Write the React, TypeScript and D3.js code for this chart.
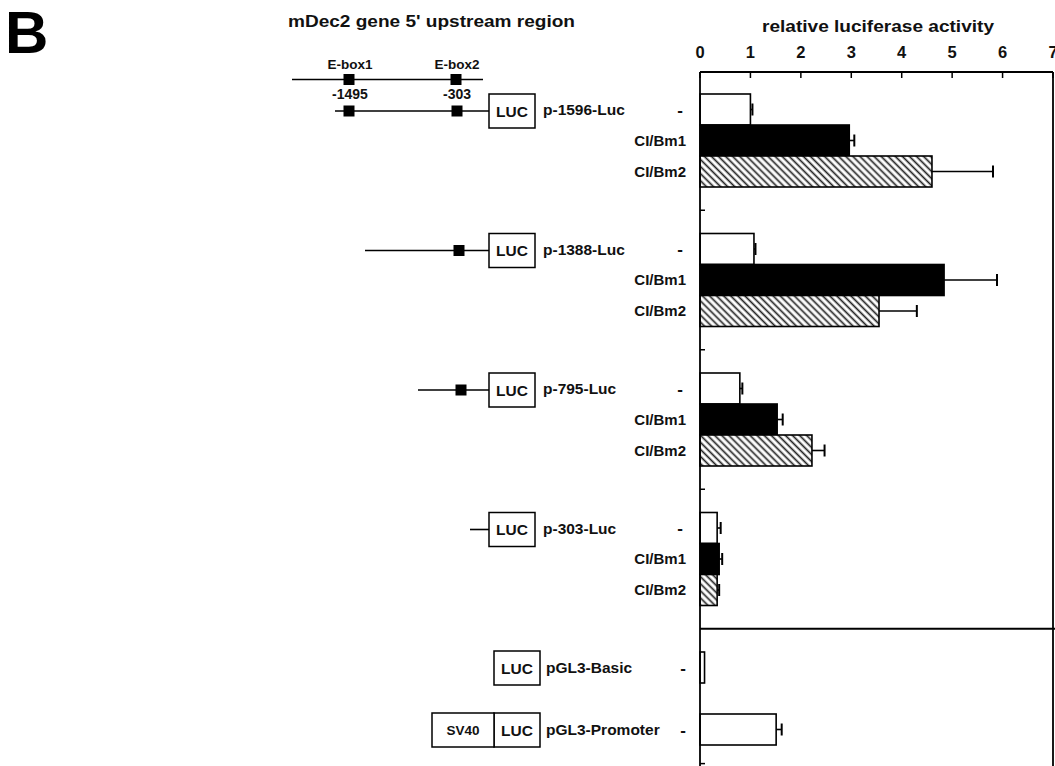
import React from "react";
import * as d3 from "d3";

// ---- data ----
const axisTicks = [0, 1, 2, 3, 4, 5, 6, 7];
const treatments = ["-", "CI/Bm1", "CI/Bm2"];
const constructs = ["p-1596-Luc", "p-1388-Luc", "p-795-Luc", "p-303-Luc"];
const meanNone = [1.0, 1.07, 0.79, 0.34];
const errNone = [0.04, 0.03, 0.05, 0.07];
const meanBm1 = [2.96, 4.84, 1.53, 0.38];
const errBm1 = [0.1, 1.05, 0.11, 0.06];
const meanBm2 = [4.6, 3.55, 2.22, 0.34];
const errBm2 = [1.21, 0.75, 0.25, 0.04];
const controls = ["pGL3-Basic", "pGL3-Promoter"];
const controlMean = [0.09, 1.51];
const controlErr = [0, 0.11];
// schematic promoter diagram (units left of the LUC box)
const lineStartUnits = [154, 124, 71, 19];
const eboxUnits = [[140, 32], [30], [28], []];
const overviewEboxLabels = ["E-box1", "E-box2"];
const overviewPositions = ["-1495", "-303"];
const overviewEboxUnits = [140, 33];

const FONT = "'Liberation Sans', Arial, Helvetica, sans-serif";

export default function App() {
  const x = d3.scaleLinear().domain([0, 7]).range([700, 1053]);
  // slot scale: one slot = one bar height
  const slot = d3.scaleLinear().domain([0, 1]).range([94, 125]);
  const barH = slot(1) - slot(0);
  const groupStart = (g: number) => g * 4.5;
  const controlSlots = [18, 20];
  const dividerSlot = 17.25;
  const leftTickSlots = [3.75, 8.25, 12.75, 21.6];

  const series = [
    { mean: meanNone, err: errNone, fill: "#fff" },
    { mean: meanBm1, err: errBm1, fill: "#000" },
    { mean: meanBm2, err: errBm2, fill: "url(#hatch)" },
  ];

  const diag = d3.scaleLinear().domain([0, 1]).range([489, 488]); // units -> px, leftward
  const boxW = 46;
  const boxH = 34;

  const bars: React.ReactNode[] = [];
  const labels: React.ReactNode[] = [];
  constructs.forEach((c, g) => {
    series.forEach((s, k) => {
      const y0 = slot(groupStart(g) + k);
      const v = s.mean[g];
      const e = s.err[g];
      const cy = y0 + barH / 2;
      bars.push(
        <g key={`b${g}${k}`}>
          <rect x={x(0)} y={y0} width={x(v) - x(0)} height={barH} fill={s.fill} stroke="#000" strokeWidth={1.6} />
          {e > 0 && (
            <>
              <line x1={x(v)} x2={x(v + e)} y1={cy} y2={cy} stroke="#000" strokeWidth={1.6} />
              <line x1={x(v + e)} x2={x(v + e)} y1={cy - 6} y2={cy + 6} stroke="#000" strokeWidth={2} />
            </>
          )}
        </g>
      );
      labels.push(
        <text key={`t${g}${k}`} x={k === 0 ? 680 : 686} y={cy} dy="0.36em" textAnchor={k === 0 ? "middle" : "end"}
          fontSize={k === 0 ? 17 : 15} fontWeight="bold">{treatments[k]}</text>
      );
    });
    const cy = slot(groupStart(g)) + barH / 2;
    const ly = cy + 1.5;
    labels.push(
      <g key={`d${g}`}>
        <line x1={diag(lineStartUnits[g])} x2={diag(0)} y1={ly} y2={ly} stroke="#000" strokeWidth={1.6} />
        {eboxUnits[g].map((u, i) => (
          <rect key={i} x={diag(u) - 5.5} y={ly - 5.5} width={11} height={11} fill="#000" />
        ))}
        <rect x={diag(0)} y={ly - boxH / 2} width={boxW} height={boxH} fill="#fff" stroke="#000" strokeWidth={1.5} />
        <text x={diag(0) + boxW / 2} y={ly} dy="0.36em" textAnchor="middle" fontSize={15.5} fontWeight="bold">LUC</text>
        <text x={543} y={cy} dy="0.36em" fontSize={15.5} fontWeight="bold">{c}</text>
      </g>
    );
  });

  controls.forEach((c, i) => {
    const y0 = slot(controlSlots[i]);
    const v = controlMean[i];
    const e = controlErr[i];
    const cy = y0 + barH / 2;
    bars.push(
      <g key={`c${i}`}>
        <rect x={x(0)} y={y0} width={x(v) - x(0)} height={barH} fill="#fff" stroke="#000" strokeWidth={1.6} />
        {e > 0 && (
          <>
            <line x1={x(v)} x2={x(v + e)} y1={cy} y2={cy} stroke="#000" strokeWidth={1.6} />
            <line x1={x(v + e)} x2={x(v + e)} y1={cy - 6} y2={cy + 6} stroke="#000" strokeWidth={2} />
          </>
        )}
      </g>
    );
    const by = cy + 0.5;
    labels.push(
      <g key={`cl${i}`}>
        <text x={683} y={cy} dy="0.36em" textAnchor="middle" fontSize={17} fontWeight="bold">-</text>
        <text x={546} y={cy} dy="0.36em" fontSize={15.5} fontWeight="bold">{c}</text>
        <rect x={494} y={by - boxH / 2} width={boxW} height={boxH} fill="#fff" stroke="#000" strokeWidth={1.5} />
        <text x={494 + boxW / 2} y={by} dy="0.36em" textAnchor="middle" fontSize={15.5} fontWeight="bold">LUC</text>
        {i === 1 && (
          <>
            <rect x={432} y={by - boxH / 2} width={494 - 432} height={boxH} fill="#fff" stroke="#000" strokeWidth={1.5} />
            <text x={463} y={by} dy="0.36em" textAnchor="middle" fontSize={13.5} fontWeight="bold">SV40</text>
          </>
        )}
      </g>
    );
  });

  const topY = 72;
  const bottomY = 800;

  return (
    <svg width={1055} height={766} style={{ display: "block", position: "absolute", left: 0, top: 0 }}
      fontFamily={FONT} fill="#111">
      <defs>
        <pattern id="hatch" patternUnits="userSpaceOnUse" width={5} height={5} patternTransform="rotate(-45)">
          <rect width={5} height={5} fill="#fff" />
          <line x1={2.5} y1={0} x2={2.5} y2={5} stroke="#222" strokeWidth={1.7} />
        </pattern>
      </defs>
      <rect width={1055} height={766} fill="#fff" />
      <text x={5} y={53} fontSize={60} fontWeight="bold" fill="#000">B</text>

      {/* titles */}
      <text x={288} y={27} fontSize={17} fontWeight="bold" textLength={287} lengthAdjust="spacingAndGlyphs">mDec2 gene 5' upstream region</text>
      <text x={762} y={32} fontSize={17} fontWeight="bold" textLength={232} lengthAdjust="spacingAndGlyphs">relative luciferase activity</text>

      {/* overview diagram */}
      <line x1={292} x2={483} y1={79.5} y2={79.5} stroke="#000" strokeWidth={1.6} />
      {overviewEboxUnits.map((u, i) => (
        <g key={i}>
          <rect x={diag(u) - 5.5} y={74} width={11} height={11} fill="#000" />
          <text x={diag(u) + 1} y={69} textAnchor="middle" fontSize={13.5} fontWeight="bold">{overviewEboxLabels[i]}</text>
          <text x={diag(u) + 1} y={99} textAnchor="middle" fontSize={14} fontWeight="bold">{overviewPositions[i]}</text>
        </g>
      ))}

      {/* top axis */}
      {axisTicks.map((t) => (
        <g key={t}>
          <text x={x(t)} y={58} textAnchor="middle" fontSize={16.5} fontWeight="bold">{t}</text>
          <line x1={x(t)} x2={x(t)} y1={topY} y2={topY + 6} stroke="#000" strokeWidth={1.5} />
        </g>
      ))}

      {bars}
      {labels}

      {/* frame */}
      <line x1={x(0)} x2={x(7)} y1={topY} y2={topY} stroke="#000" strokeWidth={1.8} />
      <line x1={x(0)} x2={x(0)} y1={topY} y2={bottomY} stroke="#000" strokeWidth={1.8} />
      <line x1={x(7)} x2={x(7)} y1={topY} y2={bottomY} stroke="#000" strokeWidth={1.8} />
      <line x1={x(0)} x2={1055} y1={slot(dividerSlot)} y2={slot(dividerSlot)} stroke="#000" strokeWidth={1.8} />
      {leftTickSlots.map((s) => (
        <line key={s} x1={x(0)} x2={x(0) + 5} y1={slot(s)} y2={slot(s)} stroke="#000" strokeWidth={1.5} />
      ))}
    </svg>
  );
}
